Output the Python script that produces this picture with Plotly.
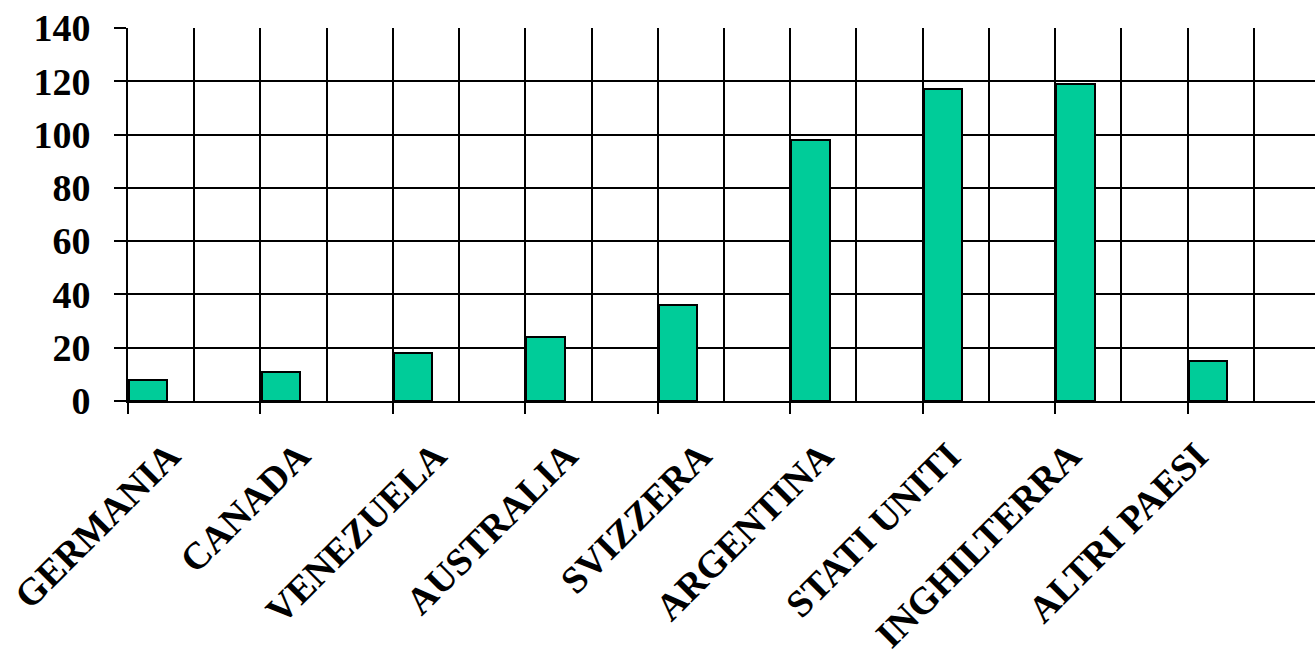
import plotly.graph_objects as go

# Paesi e valori
paesi = ["GERMANIA", "CANADA", "VENEZUELA", "AUSTRALIA", "SVIZZERA",
         "ARGENTINA", "STATI UNITI", "INGHILTERRA", "ALTRI PAESI"]
valori = [8, 11, 18, 24, 36, 98, 117, 119, 15]
y_ticks = [0, 20, 40, 60, 80, 100, 120, 140]

# horizontal placement of each rotated label inside its category slot
label_shift = [0.31, 0.29, 0.32, 0.31, 0.32, 0.24, 0.20, 0.11, 0.07]

FONT = "Liberation Serif"
W, H = 1315, 657
ML, MT, MB = 128, 28, 256
CAT_PX = 132.45  # pixel width of one category slot
x_max = (W - ML) / CAT_PX

pos = list(range(len(paesi)))

fig = go.Figure()
fig.add_trace(go.Bar(
    x=pos, y=valori,
    width=0.29, offset=0.008,
    marker=dict(color="#00CC99", line=dict(color="black", width=2)),
    xaxis="x", yaxis="y",
    hoverinfo="skip",
))
# invisible trace carrying the category labels on the overlay axis
fig.add_trace(go.Scatter(
    x=[p + 0.5 for p in pos], y=[None] * len(pos),
    xaxis="x2", yaxis="y", showlegend=False, hoverinfo="skip",
))

fig.update_layout(
    width=W, height=H,
    margin=dict(l=ML, r=0, t=MT, b=MB, pad=0),
    paper_bgcolor="white", plot_bgcolor="white",
    showlegend=False,
    bargap=0,
    xaxis=dict(
        range=[0, x_max], automargin=False,
        tickmode="array", tickvals=list(range(len(paesi) + 1)),
        showticklabels=False,
        ticks="outside", ticklen=11, tickwidth=2, tickcolor="black",
        showgrid=True, gridcolor="black", gridwidth=2,
        minor=dict(dtick=0.5, tick0=0, showgrid=True, gridcolor="black",
                   gridwidth=2, ticks=""),
        showline=True, linecolor="black", linewidth=2,
        zeroline=False,
    ),
    xaxis2=dict(
        range=[0, x_max], overlaying="x", anchor="y", side="bottom",
        automargin=False,
        tickmode="array",
        tickvals=[p + s for p, s in zip(pos, label_shift)], ticktext=paesi,
        tickangle=-45, ticks="", showgrid=False, showline=False,
        zeroline=False, ticklabelstandoff=24,
        tickfont=dict(family=FONT, size=38, color="black", weight="bold"),
    ),
    yaxis=dict(
        range=[0, 140], automargin=False,
        tickmode="array", tickvals=y_ticks,
        ticks="outside", ticklen=12, tickwidth=2, tickcolor="black",
        showgrid=True, gridcolor="black", gridwidth=2,
        showline=True, linecolor="black", linewidth=2,
        zeroline=False, ticklabelstandoff=16,
        tickfont=dict(family=FONT, size=38, color="black", weight="bold"),
    ),
)

fig.write_html("out.html")
